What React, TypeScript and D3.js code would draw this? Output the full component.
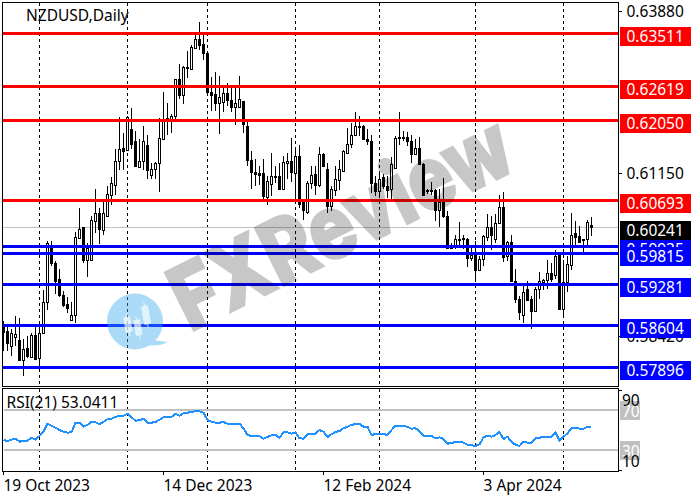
import * as d3 from 'd3'

// candles, in 1/10000 of a price unit, one row per ten bars
const opens = [
  5860, 5850, 5824, 5840, 5834, 5801, 5821, 5806, 5843, 5804,
  5847, 5899, 5992, 5965, 5937, 5910, 5895, 5869, 5876, 6007,
  6024, 5970, 5970, 6034, 6049, 6020, 6043, 6078, 6096, 6135,
  6157, 6154, 6189, 6170, 6125, 6135, 6163, 6112, 6123, 6133,
  6173, 6208, 6205, 6211, 6273, 6246, 6294, 6291, 6326, 6341,
  6333, 6317, 6252, 6249, 6233, 6235, 6250, 6239, 6226, 6227,
  6237, 6195, 6138, 6117, 6115, 6115, 6075, 6097, 6111, 6111,
  6088, 6132, 6136, 6116, 6144, 6067, 6050, 6099, 6113, 6095,
  6148, 6123, 6060, 6087, 6103, 6119, 6149, 6164, 6179, 6195,
  6195, 6173, 6170, 6099, 6085, 6108, 6093, 6088, 6124, 6176,
  6176, 6176, 6170, 6148, 6158, 6131, 6087, 6087, 6087, 6053,
  6068, 6044, 5991, 5993, 6004, 6006, 6005, 5973, 5979, 5953,
  5971, 6008, 6025, 6005, 6031, 6059, 5976, 6000, 5934, 5904,
  5876, 5920, 5903, 5884, 5920, 5932, 5935, 5948, 5944, 5977,
  5887, 5932, 5961, 6014, 6009, 6005, 6004, 6028,
]
const closes = [
  5848, 5829, 5846, 5844, 5801, 5820, 5808, 5843, 5802, 5847,
  5898, 5998, 5965, 5934, 5910, 5894, 5889, 5877, 6008, 6022,
  5969, 5989, 6037, 6049, 6021, 6049, 6081, 6098, 6136, 6155,
  6152, 6210, 6165, 6127, 6136, 6170, 6120, 6122, 6133, 6175,
  6207, 6205, 6212, 6273, 6246, 6294, 6293, 6327, 6341, 6330,
  6317, 6251, 6246, 6233, 6243, 6250, 6238, 6226, 6233, 6240,
  6198, 6137, 6117, 6113, 6112, 6077, 6102, 6111, 6110, 6089,
  6134, 6136, 6117, 6144, 6064, 6053, 6099, 6112, 6096, 6148,
  6127, 6060, 6088, 6106, 6123, 6152, 6165, 6180, 6194, 6194,
  6172, 6169, 6098, 6085, 6106, 6093, 6087, 6130, 6175, 6174,
  6174, 6169, 6148, 6158, 6130, 6079, 6085, 6086, 6053, 6067,
  6043, 5990, 5989, 6005, 6005, 6005, 5973, 5977, 5953, 5971,
  6009, 6025, 6012, 6032, 6059, 5975, 6000, 5934, 5903, 5881,
  5916, 5902, 5884, 5920, 5934, 5935, 5948, 5938, 5976, 5887,
  5932, 5962, 6011, 6008, 6000, 6003, 6033, 6024,
]
const highs = [
  5867, 5856, 5853, 5875, 5871, 5836, 5842, 5847, 5858, 5858,
  5918, 6002, 6002, 5968, 5954, 5917, 5907, 5898, 6016, 6056,
  6025, 5998, 6043, 6088, 6057, 6066, 6094, 6108, 6155, 6210,
  6183, 6212, 6224, 6186, 6172, 6194, 6179, 6133, 6134, 6208,
  6251, 6233, 6214, 6274, 6299, 6295, 6320, 6330, 6351, 6370,
  6353, 6320, 6277, 6286, 6278, 6263, 6267, 6260, 6259, 6279,
  6237, 6203, 6152, 6139, 6128, 6139, 6110, 6149, 6127, 6133,
  6144, 6149, 6175, 6158, 6162, 6071, 6102, 6127, 6127, 6159,
  6149, 6133, 6093, 6127, 6138, 6154, 6191, 6200, 6218, 6211,
  6197, 6189, 6179, 6110, 6113, 6113, 6110, 6143, 6177, 6218,
  6186, 6184, 6179, 6172, 6176, 6133, 6088, 6100, 6088, 6088,
  6107, 6051, 5997, 6012, 6033, 6012, 6007, 5990, 6001, 5976,
  6012, 6047, 6043, 6046, 6078, 6084, 6001, 6012, 5954, 5909,
  5928, 5934, 5909, 5923, 5949, 5937, 5969, 5965, 5986, 5979,
  5970, 5976, 6049, 6034, 6026, 6005, 6037, 6041,
]
const lows = [
  5816, 5816, 5808, 5825, 5800, 5774, 5805, 5804, 5801, 5788,
  5846, 5885, 5959, 5912, 5907, 5891, 5880, 5868, 5863, 6006,
  5964, 5941, 5969, 6015, 5996, 6012, 6043, 6062, 6079, 6120,
  6121, 6154, 6155, 6125, 6124, 6120, 6105, 6105, 6105, 6083,
  6172, 6180, 6183, 6204, 6240, 6231, 6275, 6290, 6325, 6322,
  6305, 6247, 6219, 6219, 6181, 6218, 6228, 6218, 6196, 6225,
  6183, 6127, 6088, 6093, 6096, 6072, 6061, 6077, 6099, 6088,
  6087, 6105, 6101, 6071, 6057, 6037, 6046, 6088, 6079, 6092,
  6125, 6049, 6051, 6077, 6087, 6117, 6148, 6158, 6177, 6177,
  6171, 6162, 6082, 6077, 6075, 6089, 6073, 6071, 6123, 6162,
  6169, 6161, 6133, 6145, 6129, 6079, 6081, 6078, 6035, 6025,
  6039, 5989, 5989, 5987, 5993, 5987, 5957, 5967, 5935, 5952,
  5959, 6001, 5986, 5998, 6029, 5966, 5967, 5933, 5897, 5868,
  5863, 5900, 5853, 5883, 5903, 5919, 5920, 5932, 5938, 5887,
  5875, 5915, 5952, 5993, 5997, 5983, 5995, 6009,
]
const rsi = [
  40, 39, 40.3, 41.3, 38.3, 39, 39.3, 42.3, 40.3, 44,
  48.3, 56.3, 54.3, 52.3, 50, 48.3, 47.3, 47.7, 57.3, 57.3,
  53.3, 55, 58, 57.7, 55.7, 58.3, 60.7, 61.3, 63.3, 64,
  64.3, 66.3, 62.7, 59.3, 59.7, 61.3, 57.3, 57.3, 58, 60.3,
  62.7, 62.7, 63, 66.3, 64.3, 66.7, 67.3, 68, 68.7, 68.7,
  67.3, 60, 58.3, 57.3, 57.3, 58, 56.3, 56, 56, 56.3,
  51.7, 45, 44, 44, 43.7, 41.3, 43, 44.7, 45, 42.3,
  47.7, 47.7, 46.3, 47.7, 41.7, 41.3, 46, 46.3, 46.3, 50,
  48.3, 43, 45.7, 48, 49, 51.7, 53.3, 55, 56, 56,
  53.3, 53.3, 45, 46, 46, 46, 45, 50, 54.3, 54.3,
  54, 53.3, 51.3, 51.7, 49, 44.3, 44.3, 44, 41.7, 42.7,
  41, 36.3, 37, 38, 38.3, 37.3, 35.3, 34.7, 34, 35.7,
  42.7, 44.3, 43.3, 45, 48, 41, 43.3, 38, 35.3, 34,
  38.3, 37.3, 37.3, 41.7, 42.3, 43, 43.3, 43.3, 47.3, 39.7,
  43.3, 46.7, 51.7, 52.3, 51.3, 51.3, 53, 53.0411,
]

const resistance = [0.63511, 0.62619, 0.6205, 0.60693]
const support = [0.59935, 0.59815, 0.59281, 0.58604, 0.57896]
const lastPrice = 0.60241
const priceTicks = [0.6388, 0.6115, 0.5842]
const rsiLevels = [70, 30]
const rsiTicks = [90, 10]
const monthBars = [9, 31, 51, 73, 94, 118, 140]
const dateBars = [0, 40, 80, 120]
const dateLabels = ['19 Oct 2023', '14 Dec 2023', '12 Feb 2024', '3 Apr 2024']

const FONT = '"Noto Sans", sans-serif'
const FS = 15.5
const PL = 2.5, PR = 618.5
const MAIN_T = 2.5, MAIN_B = 386.5, RSI_T = 388.5, RSI_B = 471.5

const x = d3.scaleLinear().domain([0, opens.length - 1]).range([3.5, 591.5])
const y = d3.scaleLinear().domain([0.57896, 0.63511]).range([366.85, 32.85])
const yRsi = d3.scaleLinear().domain([10, 90]).range([470, 390])
const crisp = (v: number) => Math.round(v) + 0.5

const rsiLine = d3.line<number>().x((_, i) => x(i)).y((d) => yRsi(d))

function PriceLabel({ value, bg }: { value: number; bg: string }) {
  const ly = crisp(y(value))
  return (
    <g>
      <rect x={620} y={ly - 6.5} width={71} height={19} fill={bg} />
      <text x={626.5} y={ly + 8.5} fill="#fff" fontSize={FS}>{value.toFixed(5)}</text>
    </g>
  )
}

export default function App() {
  return (
    <svg width={700} height={500} style={{ position: 'absolute', left: 0, top: 0, background: '#fff' }} fontFamily={FONT}>
      {/* month separators */}
      {monthBars.map((b) => (
        <g key={b} stroke="#000" strokeDasharray="3 3" shapeRendering="crispEdges">
          <line x1={x(b)} x2={x(b)} y1={MAIN_T} y2={MAIN_B} />
          <line x1={x(b)} x2={x(b)} y1={RSI_T} y2={RSI_B} />
        </g>
      ))}
      <line x1={PL} x2={PR} y1={crisp(y(lastPrice))} y2={crisp(y(lastPrice))} stroke="#c0c0c0" />

      {/* candles */}
      <g shapeRendering="crispEdges">
        {opens.map((o, i) => {
          const up = closes[i] >= o
          const top = crisp(y(Math.max(o, closes[i]) / 1e4))
          const bot = crisp(y(Math.min(o, closes[i]) / 1e4))
          return (
            <g key={i}>
              <line x1={x(i)} x2={x(i)} y1={y(highs[i] / 1e4)} y2={y(lows[i] / 1e4)} stroke="#000" />
              <rect x={x(i) - 1} y={top} width={2} height={Math.max(bot - top, 1)}
                fill={up ? '#fff' : '#000'} stroke="#000" />
            </g>
          )
        })}
      </g>

      {/* levels */}
      {resistance.map((v) => (
        <line key={v} x1={PL} x2={PR} y1={crisp(y(v))} y2={crisp(y(v))} stroke="#f00" strokeWidth={3} shapeRendering="crispEdges" />
      ))}
      {support.map((v) => (
        <line key={v} x1={PL} x2={PR} y1={crisp(y(v))} y2={crisp(y(v))} stroke="#00f" strokeWidth={3} shapeRendering="crispEdges" />
      ))}

      {/* rsi */}
      {rsiLevels.map((v) => (
        <line key={v} x1={4} x2={PR} y1={yRsi(v)} y2={yRsi(v)} stroke="#c0c0c0" strokeWidth={2} shapeRendering="crispEdges" />
      ))}
      <path d={rsiLine(rsi) ?? ''} fill="none" stroke="#1e90ff" strokeWidth={2} shapeRendering="crispEdges" />

      {/* panel frames and ticks */}
      <g fill="none" stroke="#000" shapeRendering="crispEdges">
        <rect x={PL} y={MAIN_T} width={PR - PL} height={MAIN_B - MAIN_T} />
        <rect x={PL} y={RSI_T} width={PR - PL} height={RSI_B - RSI_T} />
        {priceTicks.map((v) => <line key={v} x1={PR} x2={PR + 3} y1={crisp(y(v))} y2={crisp(y(v))} />)}
        {rsiTicks.map((v) => <line key={v} x1={PR} x2={PR + 3} y1={yRsi(v) + 0.5} y2={yRsi(v) + 0.5} />)}
        {dateBars.map((b) => <line key={b} x1={x(b)} x2={x(b)} y1={RSI_B} y2={RSI_B + 3} />)}
      </g>

      {/* watermark */}
      <g transform="translate(190,332) rotate(-26.5)" opacity={0.215}>
        <text fontFamily='Inter, "Noto Sans", sans-serif' fontWeight={800} fontSize={88} textLength={368}
          lengthAdjust="spacingAndGlyphs" fill="#000" stroke="#000" strokeWidth={3} strokeLinejoin="miter">FXReview</text>
      </g>
      <g opacity={0.42} fill="#3aa9ee">
        <circle cx={135} cy={321.5} r={28} />
        <path d="M152 340 L168 342 Q158 347 146 345 Z" />
      </g>
      <g fill="#fff" stroke="#fff" opacity={0.65}>
        <g transform="rotate(-10 128 325)"><rect x={125} y={317} width={6} height={15} rx={1} /><line x1={128} x2={128} y1={313} y2={337} /></g>
        <g transform="rotate(-10 138 328)"><rect x={135} y={320} width={6} height={15} rx={1} /><line x1={138} x2={138} y1={316} y2={340} /></g>
        <g transform="rotate(-10 146 315)"><rect x={143} y={306} width={6} height={18} rx={1} /><line x1={146} x2={146} y1={302} y2={328} /></g>
      </g>

      {/* axis labels */}
      <g fill="#000" fontSize={FS}>
        <text x={26} y={21}>NZDUSD,Daily</text>
        <text x={6.5} y={407.5}>RSI(21) {rsi[rsi.length - 1].toFixed(4)}</text>
        {priceTicks.map((v) => <text key={v} x={626.5} y={crisp(y(v)) + 5.5}>{v.toFixed(5)}</text>)}
        {dateBars.map((b, i) => <text key={b} x={x(b)} y={491}>{dateLabels[i]}</text>)}
      </g>

      {resistance.map((v) => <PriceLabel key={v} value={v} bg="#f00" />)}
      <PriceLabel value={lastPrice} bg="#000" />
      {support.map((v) => <PriceLabel key={v} value={v} bg="#00f" />)}

      {/* rsi scale */}
      {rsiLevels.map((v) => (
        <g key={v}>
          <rect x={620} y={yRsi(v) - 9} width={20} height={19} fill="#c0c0c0" />
          <text x={622} y={yRsi(v) + 6.5} fill="#fff" fontSize={FS}>{v}</text>
        </g>
      ))}
      <text x={622} y={405.5} fill="#000" fontSize={FS}>{rsiTicks[0]}</text>
      <text x={622} y={467} fill="#000" fontSize={FS}>{rsiTicks[1]}</text>
    </svg>
  )
}
